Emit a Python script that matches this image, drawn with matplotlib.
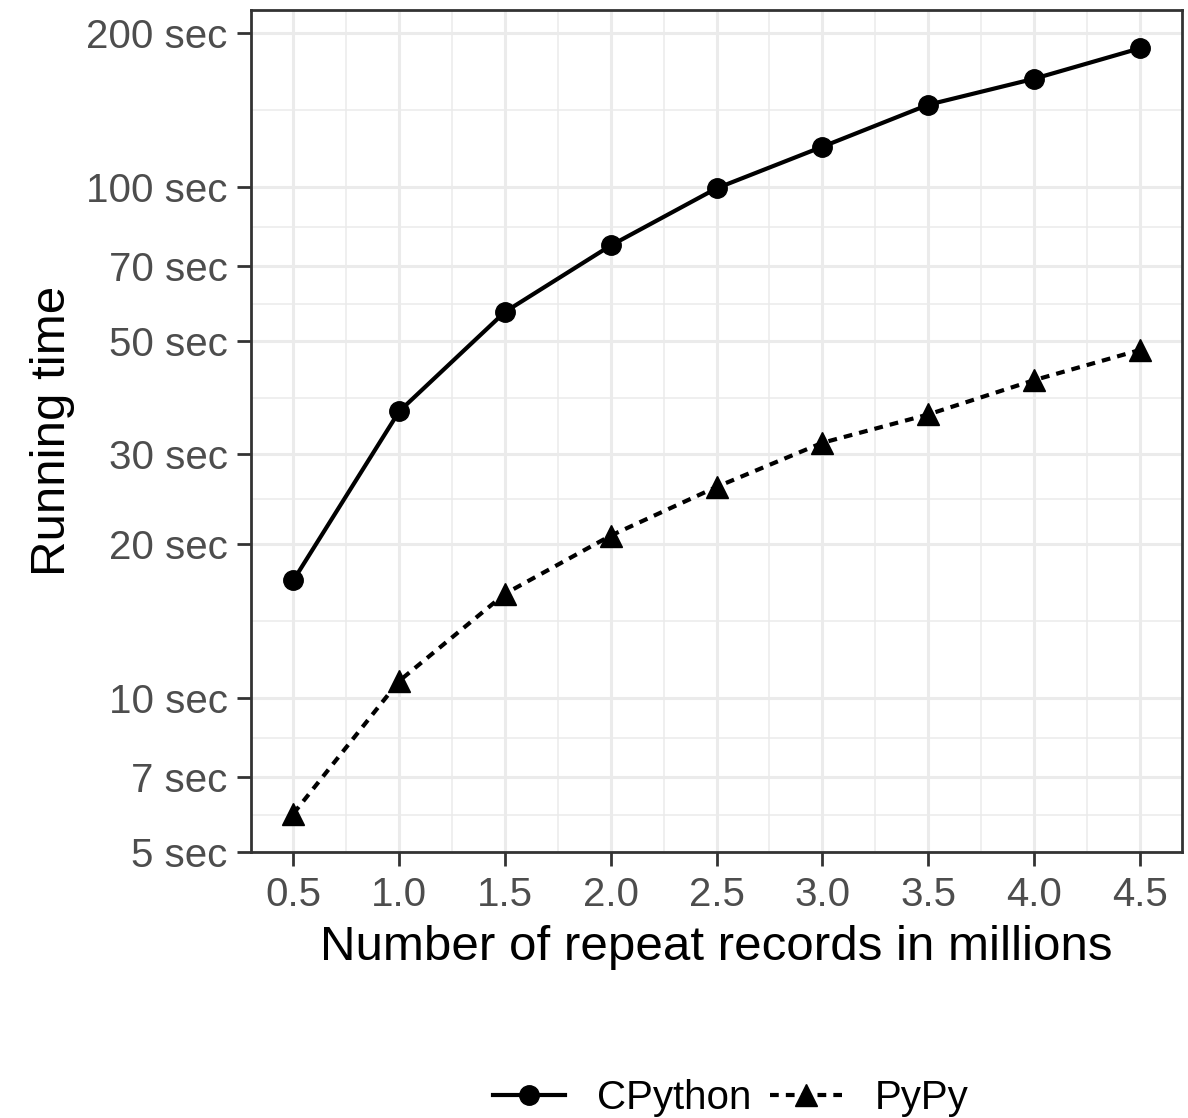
import numpy as np
import matplotlib
matplotlib.use("Agg")
import matplotlib.pyplot as plt
from matplotlib.ticker import FixedLocator, NullFormatter
from matplotlib.lines import Line2D

plt.rcParams["font.family"] = ["Liberation Sans", "DejaVu Sans"]

# data
records_millions = [0.5, 1.0, 1.5, 2.0, 2.5, 3.0, 3.5, 4.0, 4.5]
cpython_sec = [17.0, 36.4, 57.0, 76.9, 99.5, 120.0, 145.0, 163.0, 187.0]
pypy_sec = [5.94, 10.8, 16.0, 20.8, 25.9, 31.6, 35.9, 41.9, 48.0]

y_breaks = [5, 7, 10, 20, 30, 50, 70, 100, 200]
y_labels = [f"{v} sec" for v in y_breaks]
x_breaks = records_millions
x_labels = [f"{v:.1f}" for v in x_breaks]

LW = 3.0
DASH = (2.1, 1.7)

fig = plt.figure(figsize=(11.88, 11.18), dpi=100)
ax = fig.add_axes([0.2113, 0.238, 0.7837, 0.753])

ax.plot(records_millions, cpython_sec, color="black", lw=LW, marker="o",
        markersize=14, zorder=3)
ax.plot(records_millions, pypy_sec, color="black", lw=LW, marker="^",
        markersize=16, dashes=DASH, zorder=3)

ax.set_yscale("log")
ax.set_xlim(0.3, 4.7)
lo = np.log10(min(pypy_sec))
hi = np.log10(max(cpython_sec))
pad = (hi - lo) * 0.05
ax.set_ylim(10 ** (lo - pad), 10 ** (hi + pad))

ax.yaxis.set_major_locator(FixedLocator(y_breaks))
ax.set_yticklabels(y_labels)
y_minor = [np.sqrt(a * b) for a, b in zip(y_breaks[:-1], y_breaks[1:])]
ax.yaxis.set_minor_locator(FixedLocator(y_minor))
ax.yaxis.set_minor_formatter(NullFormatter())

ax.xaxis.set_major_locator(FixedLocator(x_breaks))
ax.set_xticklabels(x_labels)
x_minor = [(a + b) / 2 for a, b in zip(x_breaks[:-1], x_breaks[1:])]
ax.xaxis.set_minor_locator(FixedLocator(x_minor))

ax.grid(which="major", color="#EBEBEB", lw=2.2, zorder=0)
ax.grid(which="minor", color="#EBEBEB", lw=1.1, zorder=0)
ax.set_axisbelow(True)

ax.tick_params(which="major", length=10, width=2, color="#333333",
               labelcolor="#4D4D4D", labelsize=29, pad=7)
ax.tick_params(which="minor", length=0)
for s in ax.spines.values():
    s.set_color("#333333")
    s.set_linewidth(2)

ax.set_xlabel("Number of repeat records in millions", fontsize=35.5, labelpad=8)
ax.set_ylabel("Running time", fontsize=35.5, labelpad=8)

handles = [
    Line2D([], [], color="black", lw=LW, marker="o", markersize=14),
    Line2D([], [], color="black", lw=LW, marker="^", markersize=16, dashes=DASH),
]
fig.legend(handles, ["CPython", "PyPy"], loc="center", bbox_to_anchor=(0.615, 0.018),
           ncol=2, frameon=False, fontsize=29, handlelength=1.8,
           columnspacing=0.45, handletextpad=0.8)

fig.savefig("out.png", dpi=100)
